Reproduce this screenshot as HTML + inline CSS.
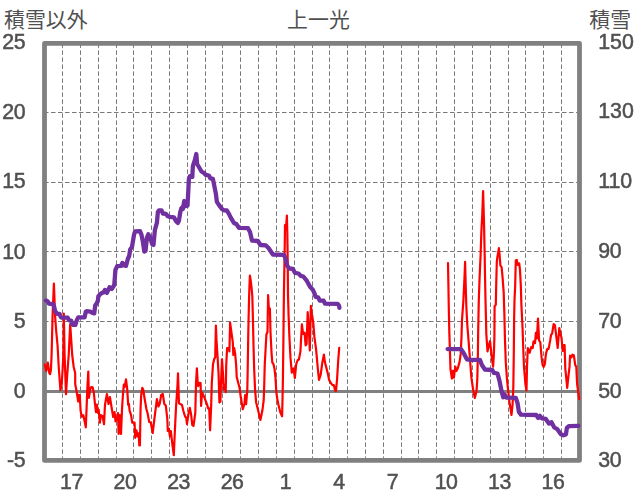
<!DOCTYPE html>
<html><head><meta charset="utf-8"><title>chart</title>
<style>
html,body{margin:0;padding:0;background:#fff;}
body{width:636px;height:501px;position:relative;overflow:hidden;font-family:"Liberation Sans",sans-serif;}
.t{position:absolute;font-family:"Liberation Sans",sans-serif;font-size:21.33px;line-height:24px;height:24px;color:#505050;white-space:nowrap;letter-spacing:-0.4px;-webkit-text-stroke:0.5px #505050;}
</style></head><body>
<svg width="636" height="501" viewBox="0 0 636 501" style="position:absolute;left:0;top:0">
<rect x="0" y="0" width="636" height="501" fill="#fff"/>
<path d="M62.5 43.4V457.9M80.5 43.4V457.9M98.5 43.4V457.9M116.5 43.4V457.9M133.5 43.4V457.9M151.5 43.4V457.9M169.5 43.4V457.9M187.5 43.4V457.9M205.5 43.4V457.9M222.5 43.4V457.9M240.5 43.4V457.9M258.5 43.4V457.9M276.5 43.4V457.9M294.5 43.4V457.9M312.5 43.4V457.9M329.5 43.4V457.9M347.5 43.4V457.9M365.5 43.4V457.9M383.5 43.4V457.9M401.5 43.4V457.9M418.5 43.4V457.9M436.5 43.4V457.9M454.5 43.4V457.9M472.5 43.4V457.9M490.5 43.4V457.9M508.5 43.4V457.9M525.5 43.4V457.9M543.5 43.4V457.9M561.5 43.4V457.9" stroke="#787878" stroke-width="1" stroke-dasharray="4.5 2.5" fill="none"/>
<path d="M44.0 321.5H577.0M44.0 251.5H577.0M44.0 182.5H577.0M44.0 112.5H577.0" stroke="#787878" stroke-width="1" stroke-dasharray="4.5 2.5" fill="none"/>
<path d="M44.5 391.40H579.5" stroke="#808080" stroke-width="3" fill="none"/>
<rect x="44.5" y="43.4" width="535.0" height="417.0" fill="none" stroke="#808080" stroke-width="4.8" stroke-linejoin="round"/>
<g fill="none" stroke-linejoin="round" stroke-linecap="round">
<polyline points="44.8,364.6 46.2,371.1 47.8,362.5 49.3,373.0 50.1,374.1 50.9,370.0 51.6,355.0 52.6,315.0 53.9,283.6 55.1,316.0 56.1,330.0 57.6,346.0 58.6,365.0 60.4,390.2 61.6,385.0 62.6,370.0 63.3,355.0 63.8,313.7 64.6,355.0 66.0,394.2 67.2,375.0 68.7,355.0 70.2,324.0 72.2,355.0 73.7,367.0 75.2,373.0 75.2,384.0 76.7,392.0 78.2,401.5 79.1,394.8 79.8,395.6 80.6,410.7 81.8,416.7 83.3,415.2 84.8,422.0 85.8,427.3 86.6,407.6 87.5,385.0 88.3,371.6 88.9,397.8 90.4,388.0 91.8,387.0 92.6,387.3 93.8,392.5 94.9,403.1 96.0,412.2 96.9,404.6 97.9,412.9 98.7,409.9 99.9,422.7 100.9,415.2 102.5,415.9 104.0,424.2 105.0,404.6 106.9,394.0 108.5,404.0 109.9,397.0 111.2,405.0 113.2,417.0 114.6,412.0 115.5,421.5 116.8,419.0 118.0,413.0 118.6,434.0 119.8,415.2 121.0,434.0 122.1,407.6 122.8,397.0 123.8,384.7 124.6,387.0 126.0,379.4 127.2,389.0 128.2,405.0 128.9,404.0 129.6,410.7 131.1,415.2 132.2,422.7 134.6,422.7 135.2,437.8 136.4,430.3 137.6,436.3 138.7,433.3 139.3,445.4 139.9,445.4 140.6,407.6 141.2,395.0 142.3,387.8 143.2,389.5 144.6,398.5 146.4,409.0 147.7,413.7 149.2,422.0 150.8,422.5 152.7,433.0 154.5,418.0 156.9,399.2 158.4,406.5 159.7,403.7 161.2,395.0 162.8,394.0 164.3,404.0 165.8,405.5 167.3,419.0 167.8,431.0 168.9,428.8 169.9,436.3 170.8,431.0 172.3,443.9 173.8,455.2 174.9,430.3 176.0,407.6 176.9,394.1 177.5,385.0 178.0,373.4 178.6,392.0 179.0,403.3 180.2,403.9 182.0,405.0 183.4,411.0 185.1,416.6 186.2,417.5 187.0,424.2 188.4,414.3 189.8,407.8 191.1,414.4 192.3,425.0 193.5,425.8 195.3,413.0 196.0,383.0 196.9,368.4 197.7,382.8 198.2,386.2 199.4,382.8 200.6,383.0 201.1,406.0 202.1,392.5 203.6,395.6 205.1,399.3 207.1,404.6 208.1,408.4 209.2,408.4 210.1,430.3 211.1,407.6 211.8,383.0 213.0,364.2 214.2,359.1 215.2,357.4 215.9,325.5 216.5,340.4 217.6,357.4 218.6,374.4 219.4,402.4 220.4,401.6 221.0,383.0 222.0,359.4 223.0,374.4 223.7,389.6 224.9,384.5 225.7,392.2 226.2,365.9 227.1,348.1 229.1,348.1 229.4,351.5 230.1,322.6 231.6,333.7 232.8,342.1 233.3,354.9 234.2,348.1 235.2,354.0 236.2,365.9 236.7,377.0 238.0,382.1 239.6,388.0 240.5,395.2 242.8,409.2 244.6,403.2 245.1,395.2 246.1,404.2 247.3,390.1 247.7,370.0 248.3,332.0 249.0,300.0 249.5,285.0 249.9,275.6 250.8,281.0 251.6,288.0 252.3,296.0 252.9,318.0 253.5,345.0 254.2,370.0 255.1,390.1 256.1,402.2 258.1,410.3 260.4,420.0 262.4,410.3 263.7,400.2 264.2,386.0 264.7,366.0 265.6,349.0 266.4,334.5 267.5,332.0 268.1,295.2 268.9,309.7 269.9,308.5 270.5,332.0 271.5,352.3 272.3,362.5 273.5,364.2 274.6,369.3 275.5,378.0 276.3,392.0 277.3,399.0 278.3,404.2 280.3,412.3 282.1,416.3 282.5,400.0 282.9,380.0 283.4,340.0 283.9,295.0 284.5,260.0 284.9,235.0 285.0,225.0 285.9,229.5 286.9,215.5 287.3,232.0 287.7,260.0 288.0,295.0 288.6,316.0 289.4,337.0 290.5,357.9 291.8,372.6 293.5,368.4 294.9,378.0 296.2,364.2 297.7,360.0 298.9,359.6 300.4,351.6 301.9,324.3 303.1,333.8 304.6,332.7 305.6,345.3 306.6,344.0 307.7,312.2 309.0,332.7 309.8,350.5 310.9,305.9 311.9,313.9 313.2,322.2 314.4,336.9 316.1,349.5 317.8,368.4 319.0,379.9 320.7,374.6 322.4,362.1 323.9,354.7 324.9,362.1 326.2,367.3 327.6,372.6 329.1,379.9 330.8,383.0 332.5,385.1 333.9,385.1 335.0,390.4 336.0,391.0 337.1,378.8 338.1,362.1 339.2,347.8" stroke="#ff0000" stroke-width="2.2"/>
<polyline points="448.0,263.1 448.4,285.0 448.8,308.0 449.3,332.0 449.9,350.0 450.5,369.2 451.9,378.5 452.9,370.9 453.9,377.7 455.3,366.6 456.6,370.9 457.8,368.3 459.5,362.4 460.7,353.9 461.5,337.0 462.0,320.0 463.4,300.3 464.5,277.6 465.1,261.8 465.7,285.2 466.4,307.8 467.3,325.0 468.0,333.6 468.8,343.7 470.2,362.4 471.4,377.7 473.1,389.5 474.8,398.0 476.5,391.2 477.3,379.4 477.9,353.9 478.2,330.0 478.8,300.3 479.6,277.6 480.6,255.0 481.4,231.0 482.3,214.0 483.1,191.1 484.0,222.4 484.6,251.0 485.0,275.0 485.5,300.0 486.0,320.0 486.3,333.6 487.5,351.4 488.8,345.4 490.0,341.2 490.9,348.8 492.2,360.7 493.1,366.6 493.9,353.9 494.4,337.0 494.6,306.3 495.8,304.8 496.2,285.2 496.8,262.0 497.4,257.0 498.1,253.0 498.9,248.2 499.6,255.0 500.4,265.6 501.6,267.1 502.6,277.6 503.7,292.7 504.4,315.0 504.9,337.0 505.8,362.4 507.0,379.4 508.2,391.2 509.6,403.0 511.5,415.0 512.6,404.3 513.3,387.8 513.8,353.9 514.1,320.0 514.5,300.3 515.2,285.2 515.8,260.3 516.8,260.0 517.7,264.8 519.2,263.3 520.0,270.1 520.8,285.2 521.4,305.0 522.6,329.0 523.3,350.0 524.0,367.0 525.4,384.0 526.5,390.5 527.0,367.0 527.8,348.0 528.9,350.8 529.7,352.7 531.2,347.0 532.7,348.0 533.5,341.3 535.0,343.2 535.9,332.8 536.9,338.5 538.0,318.5 539.1,340.4 540.3,342.3 541.6,357.4 542.6,365.0 543.7,366.9 544.8,364.1 546.0,353.6 547.3,348.9 548.6,348.9 550.2,340.4 551.1,334.7 552.1,333.7 553.6,324.2 554.9,325.2 556.2,335.6 557.7,348.0 559.3,328.0 560.6,334.7 561.5,337.5 562.7,350.8 563.4,345.1 564.6,345.1 565.3,368.8 566.3,378.3 567.2,387.8 568.4,376.4 569.5,366.9 570.1,355.5 571.4,357.4 572.5,354.6 573.9,355.5 575.2,365.0 576.3,366.9 577.1,384.0 578.2,391.6 579.2,399.2" stroke="#ff0000" stroke-width="2.2"/>
<polyline points="46.0,300.6 47.6,301.2 48.8,303.6 53.2,304.0 54.2,307.0 55.0,310.8 56.4,312.9 57.2,313.8 59.6,313.9 60.6,316.7 61.3,317.5 67.7,317.6 68.7,319.8 69.4,320.4 71.2,320.6 72.2,324.2 72.8,324.8 75.4,324.8 76.7,320.4 78.2,317.4 84.6,317.3 85.8,311.8 86.6,311.2 90.3,311.7 92.3,312.8 94.2,313.4 95.2,305.5 96.8,303.2 97.8,301.0 98.4,296.2 100.4,294.0 101.9,292.9 103.5,292.5 104.9,289.9 106.9,292.9 109.5,287.3 111.9,288.9 114.3,284.9 115.4,270.0 117.2,266.2 121.0,265.9 122.4,262.9 124.0,265.5 126.0,265.9 127.8,259.0 129.2,255.9 130.2,249.5 132.0,246.9 134.0,234.9 135.0,231.5 140.0,231.1 141.5,234.9 142.9,241.9 144.3,251.5 145.5,250.9 146.9,237.9 148.3,234.3 149.9,236.9 152.3,244.3 153.5,244.9 154.9,229.9 156.9,222.9 157.9,211.9 158.9,210.4 161.5,210.4 162.9,213.5 165.9,213.9 167.9,216.3 169.9,216.9 173.9,217.3 175.9,220.9 177.9,222.9 178.9,220.9 180.3,211.9 181.5,208.0 182.9,208.9 184.3,201.0 185.9,206.0 187.5,205.6 188.3,191.0 188.9,178.9 189.9,176.3 192.3,176.9 192.9,165.9 194.9,160.0 196.3,154.0 197.1,164.0 198.9,167.0 201.5,171.5 203.9,172.9 205.9,174.9 208.9,175.5 210.3,178.3 212.9,178.9 214.3,185.9 215.9,193.9 216.9,201.9 218.9,204.9 221.9,208.9 223.9,210.3 226.9,210.5 228.9,213.9 230.9,217.9 233.9,222.9 236.3,223.9 238.9,227.8 248.0,228.2 250.0,232.0 252.0,240.6 257.9,241.0 260.5,245.0 265.9,245.4 268.5,248.0 272.9,254.5 283.9,254.9 285.3,257.9 287.3,265.9 289.3,268.5 292.9,268.9 294.9,272.9 298.5,273.5 300.9,275.9 303.3,276.5 306.9,280.9 309.9,286.5 312.9,289.9 314.6,293.6 315.6,296.9 318.2,297.3 319.6,300.5 323.6,300.6 325.0,303.7 337.6,303.8 339.0,305.5 339.4,307.8" stroke="#7030a0" stroke-width="4.3"/>
<polyline points="447.6,349.1 461.0,349.1 463.6,353.0 467.0,359.4 470.0,359.9 479.9,359.9 481.9,365.0 484.9,369.5 492.3,370.0 493.9,372.9 497.5,373.5 499.5,380.9 501.5,390.9 503.3,397.3 504.6,394.6 506.4,397.6 515.7,397.8 517.5,402.9 518.9,411.9 520.9,414.6 536.3,415.0 538.1,418.0 539.9,415.9 541.9,418.3 545.6,418.8 548.9,423.5 551.5,422.3 554.3,427.5 557.3,429.2 560.9,434.2 563.5,435.3 565.9,434.5 566.9,427.9 568.9,426.1 578.4,425.8" stroke="#7030a0" stroke-width="4.3"/>
</g>
<text x="4" y="27.2" font-size="20.9" fill="#505050" font-family="&quot;Liberation Sans&quot;, &quot;Noto Sans CJK JP&quot;, sans-serif">積雪以外</text>
<text x="287.1" y="27" font-size="20.9" fill="#505050" font-family="&quot;Liberation Sans&quot;, &quot;Noto Sans CJK JP&quot;, sans-serif">上一光</text>
<text x="589.3" y="27.2" font-size="20.9" fill="#505050" font-family="&quot;Liberation Sans&quot;, &quot;Noto Sans CJK JP&quot;, sans-serif">積雪</text>
</svg>
<div id="labels" style="position:absolute;left:0;top:0;width:636px;height:501px;will-change:transform;filter:grayscale(1)">
<div class="t" style="right:610.8px;top:30.4px;text-align:right">25</div>
<div class="t" style="right:610.8px;top:99.9px;text-align:right">20</div>
<div class="t" style="right:610.8px;top:169.4px;text-align:right">15</div>
<div class="t" style="right:610.8px;top:239.5px;text-align:right">10</div>
<div class="t" style="right:610.8px;top:309.2px;text-align:right">5</div>
<div class="t" style="right:610.8px;top:378.9px;text-align:right">0</div>
<div class="t" style="right:610.8px;top:448.2px;text-align:right">-5</div>
<div class="t" style="left:598.2px;top:30.0px;letter-spacing:0">150</div>
<div class="t" style="left:598.2px;top:99.2px;letter-spacing:0">130</div>
<div class="t" style="left:598.2px;top:168.8px;letter-spacing:0">110</div>
<div class="t" style="left:598.3px;top:239.0px;">90</div>
<div class="t" style="left:598.3px;top:308.6px;">70</div>
<div class="t" style="left:598.3px;top:378.5px;">50</div>
<div class="t" style="left:598.3px;top:448.1px;">30</div>
<div class="t" style="left:41.5px;top:469.6px;width:60px;text-align:center">17</div>
<div class="t" style="left:95.0px;top:469.6px;width:60px;text-align:center">20</div>
<div class="t" style="left:148.6px;top:469.6px;width:60px;text-align:center">23</div>
<div class="t" style="left:202.1px;top:469.6px;width:60px;text-align:center">26</div>
<div class="t" style="left:255.6px;top:469.6px;width:60px;text-align:center">1</div>
<div class="t" style="left:309.1px;top:469.6px;width:60px;text-align:center">4</div>
<div class="t" style="left:362.6px;top:469.6px;width:60px;text-align:center">7</div>
<div class="t" style="left:416.1px;top:469.6px;width:60px;text-align:center">10</div>
<div class="t" style="left:469.5px;top:469.6px;width:60px;text-align:center">13</div>
<div class="t" style="left:523.0px;top:469.6px;width:60px;text-align:center">16</div>
</div>
</body></html>
